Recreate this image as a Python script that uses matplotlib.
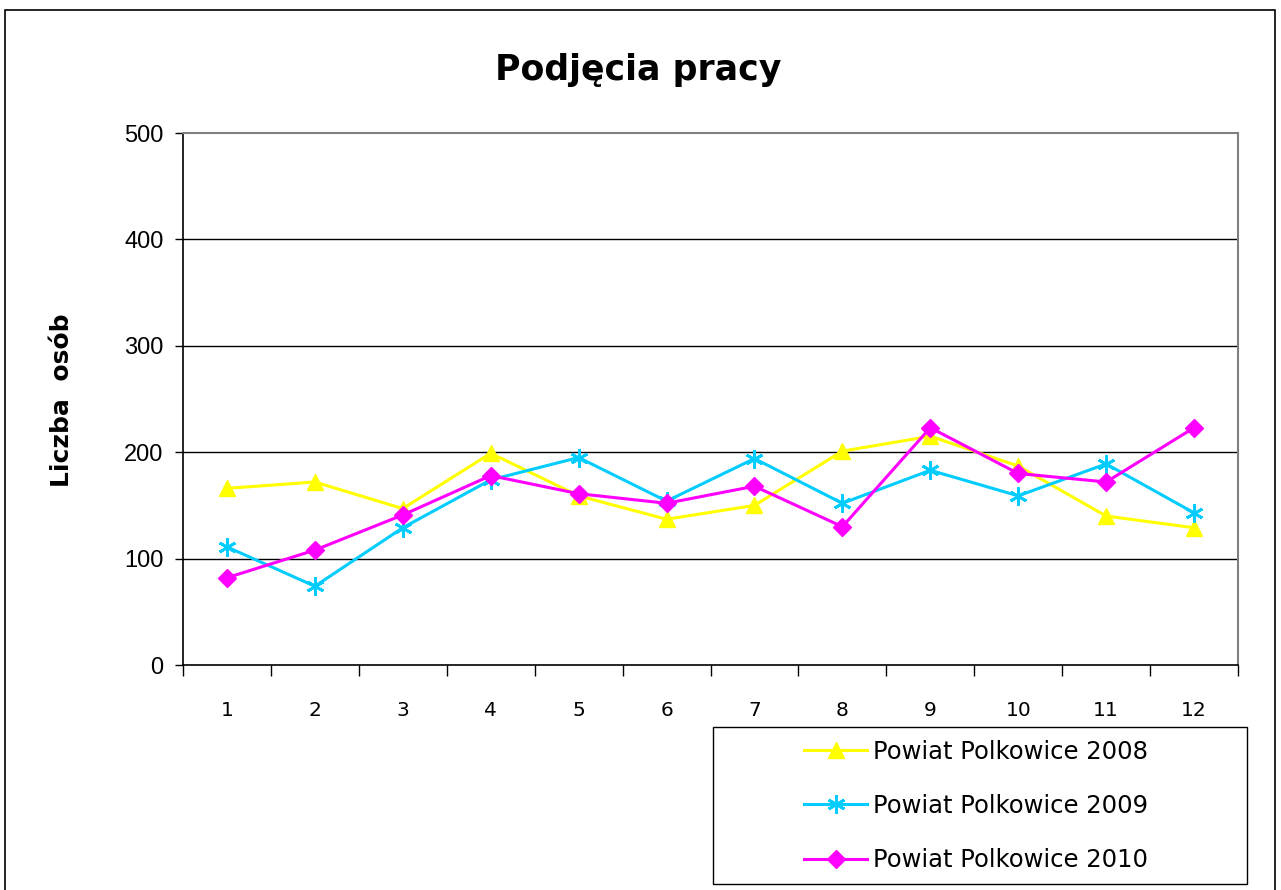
import matplotlib
matplotlib.use("Agg")
import matplotlib.pyplot as plt
from matplotlib.patches import Rectangle

months = ["1", "2", "3", "4", "5", "6", "7", "8", "9", "10", "11", "12"]
s2008 = [166, 172, 147, 199, 159, 137, 150, 201, 215, 187, 140, 129]
s2009 = [111, 74, 129, 174, 195, 154, 194, 152, 183, 159, 189, 143]
s2010 = [82, 108, 141, 178, 161, 152, 168, 130, 223, 180, 172, 223]
labels = ["Powiat Polkowice 2008", "Powiat Polkowice 2009", "Powiat Polkowice 2010"]
yticks = [0, 100, 200, 300, 400, 500]

W, H = 1281, 890
fig = plt.figure(figsize=(W / 100, H / 100), dpi=100)
fig.patch.set_facecolor("white")

# outer chart border
fig.add_artist(Rectangle((5 / W, -0.01), (1275 - 5) / W, (H - 10) / H + 0.01,
                         transform=fig.transFigure, fill=False, edgecolor="black", lw=1.2))

L, R, T, B = 183, 1238, 133, 665
ax = fig.add_axes([L / W, 1 - B / H, (R - L) / W, (B - T) / H])

x = list(range(len(months)))
ax.plot(x, s2008, color="#FFFF00", lw=2.2, marker="^", ms=12, label=labels[0], zorder=3)
ax.plot(x, s2009, color="#00CCFF", lw=2.2, marker=(6, 2, 0), ms=13, mew=2, label=labels[1], zorder=3)
ax.plot(x, s2010, color="#FF00FF", lw=2.2, marker="D", ms=9, label=labels[2], zorder=4)

ax.set_xlim(-0.5, len(months) - 0.5)
ax.set_ylim(0, 500)
ax.set_yticks(yticks)
ax.set_yticklabels([str(v) for v in yticks], fontfamily="Liberation Sans", fontsize=17)
ax.set_xticks(x)
ax.set_xticklabels(months, fontfamily="DejaVu Sans", fontsize=14.5)
ax.tick_params(axis="x", length=0, pad=26)
ax.set_xticks([i + 0.5 for i in range(-1, len(months))], minor=True)
ax.tick_params(axis="x", which="minor", length=8, color="black", width=1)
ax.tick_params(axis="y", length=6, color="black", width=1, pad=8)

for v in yticks[1:-1]:
    ax.axhline(v, color="black", lw=1, zorder=1)

for side in ["top", "right"]:
    ax.spines[side].set_color("#808080")
    ax.spines[side].set_linewidth(1.5)
for side in ["left", "bottom"]:
    ax.spines[side].set_color("black")
    ax.spines[side].set_linewidth(1.2)

fig.text(638 / W, 1 - 70 / H, "Podjęcia pracy", ha="center", va="center",
         fontsize=25, fontweight="bold", fontfamily="DejaVu Sans")
fig.text(62 / W, 1 - 400 / H, "Liczba  osób", ha="center", va="center", rotation=90,
         fontsize=18, fontweight="bold", fontfamily="DejaVu Sans")

# legend box
lx0, ly0, lx1, ly1 = 713, 727, 1247, 884
fig.add_artist(Rectangle((lx0 / W, 1 - ly1 / H), (lx1 - lx0) / W, (ly1 - ly0) / H,
                         transform=fig.transFigure, fill=True, facecolor="white",
                         edgecolor="black", lw=1.0, zorder=5))
h, l = ax.get_legend_handles_labels()
leg = fig.legend(h, l, loc="center left",
                 bbox_to_anchor=(804 / W, 1 - 806 / H),
                 frameon=False, prop={"family": "DejaVu Sans", "size": 17.5},
                 handlelength=2.6, labelspacing=1.25, handletextpad=0.25,
                 borderpad=0, borderaxespad=0)
leg.set_zorder(6)

fig.savefig("out.png", dpi=100, facecolor="white")
